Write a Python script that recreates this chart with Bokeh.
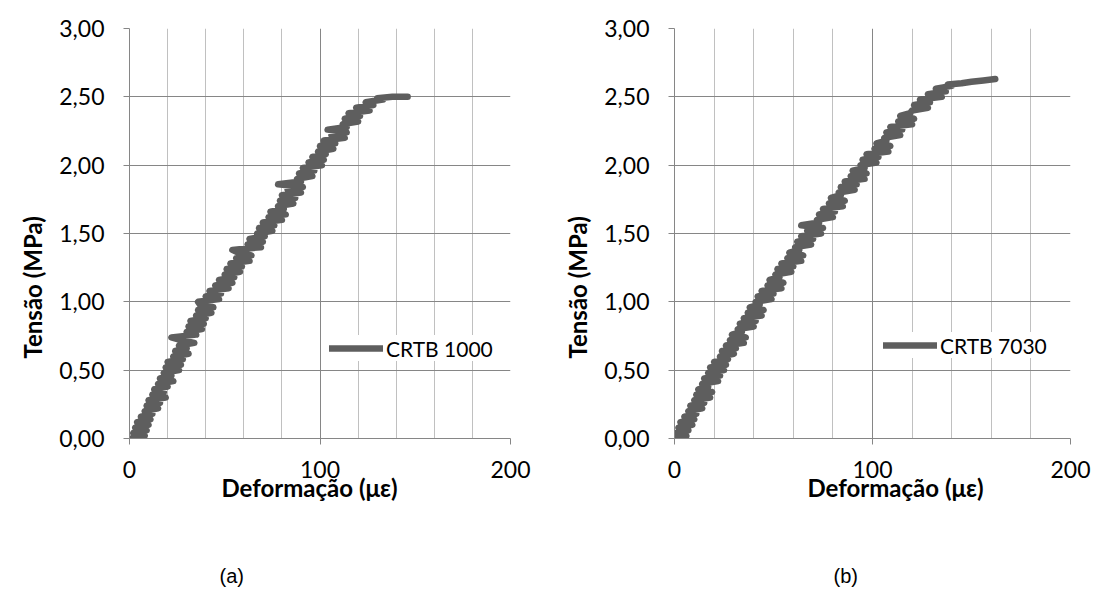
from bokeh.plotting import figure
from bokeh.models import FixedTicker, CustomJSTickFormatter, Legend, LegendItem, Title, Range1d
from bokeh.layouts import row, column
from bokeh.embed import file_html
from bokeh.resources import INLINE

# ---- data (strain in micro-strain, stress in MPa) ----
x_a = [1, 8, 2, 9, 3,
       10, 4, 11, 6, 12,
       8, 15, 9, 16, 10,
       19, 12, 18, 13, 20,
       15, 23, 16, 22, 18,
       26, 19, 27, 20, 28,
       23, 31, 24, 30, 26,
       34, 27, 22, 35, 30,
       38, 31, 39, 32, 40,
       35, 43, 36, 44, 37,
       36, 47, 40, 48, 42,
       52, 45, 54, 47, 55,
       50, 58, 51, 59, 53,
       63, 56, 64, 57, 54,
       69, 62, 70, 63, 71,
       67, 75, 68, 76, 70,
       80, 73, 82, 74, 81,
       78, 86, 79, 87, 80,
       90, 83, 91, 78, 90,
       88, 96, 89, 97, 91,
       101, 94, 102, 96, 103,
       99, 107, 100, 108, 102,
       113, 106, 114, 104, 114,
       112, 120, 113, 121, 115,
       126, 119, 128, 124, 133,
       130, 138, 146]
y_a = [0.00, 0.02, 0.04, 0.06, 0.08,
       0.10, 0.12, 0.14, 0.16, 0.18,
       0.20, 0.22, 0.24, 0.26, 0.28,
       0.30, 0.32, 0.34, 0.36, 0.38,
       0.40, 0.42, 0.44, 0.46, 0.48,
       0.50, 0.52, 0.54, 0.56, 0.58,
       0.60, 0.62, 0.64, 0.66, 0.68,
       0.70, 0.72, 0.74, 0.76, 0.78,
       0.80, 0.82, 0.84, 0.86, 0.88,
       0.90, 0.92, 0.94, 0.96, 0.98,
       1.00, 1.02, 1.04, 1.06, 1.08,
       1.10, 1.12, 1.14, 1.16, 1.18,
       1.20, 1.22, 1.24, 1.26, 1.28,
       1.30, 1.32, 1.34, 1.36, 1.38,
       1.40, 1.42, 1.44, 1.46, 1.48,
       1.50, 1.52, 1.54, 1.56, 1.58,
       1.60, 1.62, 1.64, 1.66, 1.68,
       1.70, 1.72, 1.74, 1.76, 1.78,
       1.80, 1.82, 1.84, 1.86, 1.88,
       1.90, 1.92, 1.94, 1.96, 1.98,
       2.00, 2.02, 2.04, 2.06, 2.08,
       2.10, 2.12, 2.14, 2.16, 2.18,
       2.20, 2.22, 2.24, 2.26, 2.28,
       2.30, 2.32, 2.34, 2.36, 2.38,
       2.40, 2.42, 2.44, 2.46, 2.48,
       2.49, 2.50, 2.50]

x_b = [0, 6, 1, 7, 2,
       9, 3, 10, 5, 11,
       7, 14, 8, 15, 10,
       18, 11, 19, 12, 17,
       14, 22, 15, 23, 17,
       25, 18, 26, 20, 27,
       23, 30, 24, 31, 26,
       35, 28, 36, 29, 34,
       32, 40, 33, 41, 35,
       44, 37, 45, 38, 43,
       41, 49, 42, 50, 44,
       54, 47, 55, 48, 53,
       51, 59, 52, 60, 54,
       64, 57, 65, 58, 63,
       61, 69, 62, 70, 64,
       74, 67, 75, 64, 73,
       72, 80, 73, 81, 75,
       85, 78, 86, 79, 84,
       83, 91, 84, 92, 86,
       96, 89, 97, 90, 96,
       94, 102, 95, 103, 97,
       108, 101, 109, 102, 107,
       106, 114, 107, 115, 109,
       120, 113, 121, 114, 119,
       120, 128, 121, 129, 124,
       135, 128, 137, 132, 140,
       138, 145, 150, 156, 162]
y_b = [0.00, 0.02, 0.04, 0.06, 0.08,
       0.10, 0.12, 0.14, 0.16, 0.18,
       0.20, 0.22, 0.24, 0.26, 0.28,
       0.30, 0.32, 0.34, 0.36, 0.38,
       0.40, 0.42, 0.44, 0.46, 0.48,
       0.50, 0.52, 0.54, 0.56, 0.58,
       0.60, 0.62, 0.64, 0.66, 0.68,
       0.70, 0.72, 0.74, 0.76, 0.78,
       0.80, 0.82, 0.84, 0.86, 0.88,
       0.90, 0.92, 0.94, 0.96, 0.98,
       1.00, 1.02, 1.04, 1.06, 1.08,
       1.10, 1.12, 1.14, 1.16, 1.18,
       1.20, 1.22, 1.24, 1.26, 1.28,
       1.30, 1.32, 1.34, 1.36, 1.38,
       1.40, 1.42, 1.44, 1.46, 1.48,
       1.50, 1.52, 1.54, 1.56, 1.58,
       1.60, 1.62, 1.64, 1.66, 1.68,
       1.70, 1.72, 1.74, 1.76, 1.78,
       1.80, 1.82, 1.84, 1.86, 1.88,
       1.90, 1.92, 1.94, 1.96, 1.98,
       2.00, 2.02, 2.04, 2.06, 2.08,
       2.10, 2.12, 2.14, 2.16, 2.18,
       2.20, 2.22, 2.24, 2.26, 2.28,
       2.30, 2.32, 2.34, 2.36, 2.38,
       2.40, 2.42, 2.44, 2.46, 2.48,
       2.50, 2.52, 2.54, 2.56, 2.58,
       2.59, 2.60, 2.61, 2.62, 2.63]

x_ticks = [0, 100, 200]
x_minor_ticks = [20, 40, 60, 80, 120, 140, 160, 180]
y_ticks = [0, 0.5, 1.0, 1.5, 2.0, 2.5, 3.0]
y_tick_labels = ["0,00", "0,50", "1,00", "1,50", "2,00", "2,50", "3,00"]
series_names = ["CRTB 1000", "CRTB 7030"]
panel_labels = ["(a)", "(b)"]
x_title = "Deformação (με)"
y_title = "Tensão (MPa)"

LINE = "#5e5e5e"
AX = "#868686"
MINOR = "#c0c0c0"
FONT = "Lato"
TOP_H = 560
LABEL_H = 50


def make_panel(xs, ys, name, width, mb_left, mb_right, mb_top, mb_bottom,
               leg_x, leg_y, xt_offset):
    p = figure(width=width, height=TOP_H, x_range=Range1d(0, 200), y_range=Range1d(0, 3),
               output_backend="svg", toolbar_location=None,
               min_border_left=mb_left, min_border_right=mb_right,
               min_border_top=mb_top, min_border_bottom=mb_bottom)
    p.outline_line_color = None
    p.background_fill_color = "white"
    p.border_fill_color = "white"

    p.xaxis.ticker = FixedTicker(ticks=x_ticks, minor_ticks=x_minor_ticks)
    p.yaxis.ticker = FixedTicker(ticks=y_ticks, minor_ticks=[])
    p.yaxis.formatter = CustomJSTickFormatter(
        args=dict(vals=y_ticks, labs=y_tick_labels),
        code="for (let i = 0; i < vals.length; i++) { if (Math.abs(vals[i]-tick) < 1e-6) return labs[i]; } return '';")
    for ax in (p.xaxis, p.yaxis):
        ax.axis_line_color = AX
        ax.major_tick_line_color = AX
        ax.minor_tick_line_color = None
        ax.major_tick_out = 6
        ax.major_tick_in = 0
        ax.major_label_text_font = FONT
        ax.major_label_text_font_size = "23px"
        ax.major_label_text_color = "black"
    p.yaxis.major_label_standoff = 19
    p.xaxis.major_label_standoff = 16

    p.xgrid.ticker = FixedTicker(ticks=x_ticks, minor_ticks=x_minor_ticks)
    p.xgrid.grid_line_color = AX
    p.xgrid.minor_grid_line_color = MINOR
    p.ygrid.ticker = FixedTicker(ticks=y_ticks, minor_ticks=[])
    p.ygrid.grid_line_color = AX

    r = p.line(xs, ys, line_width=6.5, color=LINE, line_join="round", line_cap="round")

    leg = Legend(items=[LegendItem(label=name, renderers=[r])],
                 location=(leg_x, leg_y), orientation="vertical",
                 background_fill_color="white", background_fill_alpha=1.0,
                 border_line_color=None, padding=10, margin=0,
                 glyph_width=54, glyph_height=26, label_standoff=3,
                 label_text_font=FONT, label_text_font_size="21px",
                 label_text_color="black")
    p.add_layout(leg, "center")

    ty = Title(text=y_title, align="left", offset=80, text_font=FONT,
               text_font_size="24px", text_font_style="bold", text_color="black",
               standoff=20)
    p.add_layout(ty, "left")

    t = Title(text=x_title, align="left", offset=xt_offset, text_font=FONT,
              text_font_size="24px", text_font_style="bold", text_color="black",
              standoff=-20)
    p.add_layout(t, "below")
    return p


def make_caption(text, width, offset):
    c = figure(width=width, height=LABEL_H, output_backend="svg", toolbar_location=None,
               x_axis_type=None, y_axis_type=None, min_border=0,
               x_range=Range1d(0, 1), y_range=Range1d(0, 1))
    c.outline_line_color = None
    c.grid.visible = False
    c.background_fill_color = "white"
    c.border_fill_color = "white"
    c.add_layout(Title(text=text, align="left", offset=offset,
                       text_font="Liberation Sans", text_font_size="20px",
                       text_font_style="normal", text_color="black", standoff=4),
                 "above")
    return c


pa = make_panel(x_a, y_a, series_names[0], 545, 129, 35, 23, 122, 200, 77, 92)
pb = make_panel(x_b, y_b, series_names[1], 548, 129, 23, 28, 119, 209, 80, 133)
ca = make_caption(panel_labels[0], 545, 219)
cb = make_caption(panel_labels[1], 548, 288)

layout = column(row(pa, pb), row(ca, cb))
open("out.html", "w").write(file_html(layout, INLINE))
